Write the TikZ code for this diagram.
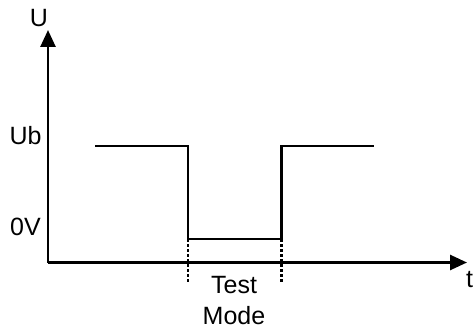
\documentclass[tikz,border=0pt]{standalone}
\usepackage{fontspec}
\setmainfont{Liberation Sans}
\usetikzlibrary{arrows.meta}
\begin{document}
\begin{tikzpicture}[x=1pt,y=-1pt,
  axis/.style={line width=2.6pt,-{Triangle[length=17pt,width=15pt]}},
  wave/.style={line width=2.2pt},
  guide/.style={line width=2.2pt,dash pattern=on 3pt off 2pt},
  lbl/.style={inner sep=0pt,anchor=base,font=\fontsize{25}{30}\selectfont}]
\useasboundingbox (0,0) rectangle (473,329);
% axes
\coordinate (O) at (48,262.5);
\coordinate (Ytop) at (48,30);
\coordinate (Xend) at (467,262.5);
\draw[axis] (O) -- (Ytop);
\draw[axis] (O) -- (Xend);
% waveform
\coordinate (a) at (95,146);
\coordinate (b) at (188,146);
\coordinate (c) at (188,239);
\coordinate (d) at (281.5,239);
\coordinate (e) at (281.5,146);
\coordinate (f) at (374,146);
\draw[wave] (a) -- (b) -- (c) -- (d) -- (e) -- (f);
% guides
\coordinate (c2) at (188,283);
\coordinate (d2) at (281.5,283);
\draw[guide] (c) -- (c2);
\draw[guide] (d) -- (d2);
% labels
\node[lbl] (U) at (39,27) {U};
\node[lbl] (Ub) at (25.5,144) {Ub};
\node[lbl] (zero) at (25.5,235) {0V};
\node[lbl,anchor=base west] (t) at (466,287) {t};
\node[lbl] (test) at (234,293) {Test};
\node[lbl] (mode) at (234,324) {Mode};
\end{tikzpicture}
\end{document}
